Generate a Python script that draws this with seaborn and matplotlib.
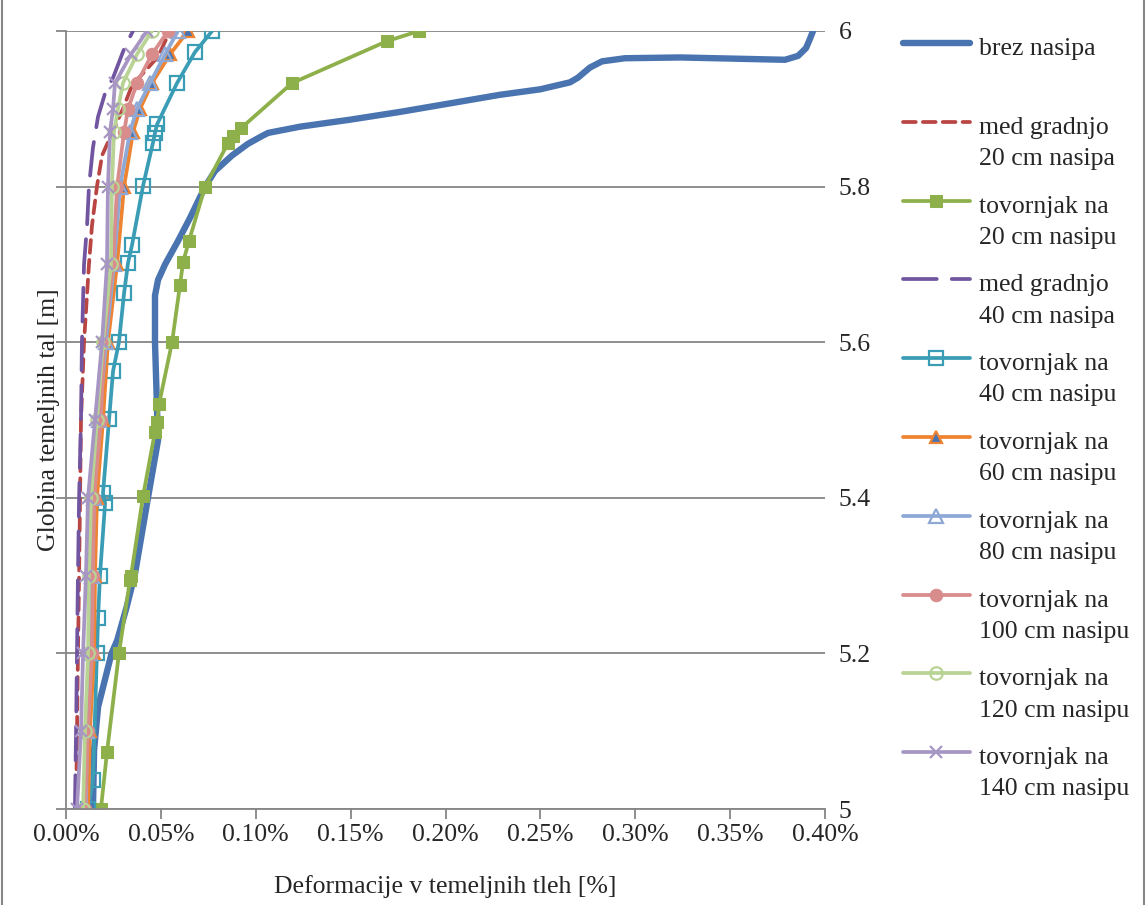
import matplotlib
matplotlib.use("Agg")
import matplotlib.pyplot as plt
from matplotlib.legend_handler import HandlerLine2D
from matplotlib.lines import Line2D
from matplotlib.ticker import FuncFormatter
import seaborn as sns

# ---- data: depth [m] and strain in foundation soil [%] ----
depth_brez = [5.0, 5.076, 5.131, 5.2, 5.217, 5.26, 5.303, 5.4, 5.474, 5.52, 5.6, 5.66,
              5.68, 5.7, 5.73, 5.76, 5.8, 5.82, 5.84, 5.855, 5.865, 5.869, 5.877, 5.886,
              5.896, 5.907, 5.918, 5.925, 5.934, 5.94, 5.953, 5.961, 5.965, 5.966, 5.964,
              5.963, 5.968, 5.978, 5.99, 6.0]
def_brez = [0.0142, 0.0148, 0.0169, 0.0240, 0.0270, 0.0320, 0.0364, 0.0432, 0.0485, 0.0479,
            0.0469, 0.0469, 0.0485, 0.0522, 0.0590, 0.0654, 0.0733, 0.0785, 0.0875, 0.0959,
            0.1033, 0.1065, 0.1233, 0.1497, 0.1760, 0.2024, 0.2287, 0.2498, 0.2656, 0.2698,
            0.2761, 0.2825, 0.2946, 0.3236, 0.3605, 0.3789, 0.3858, 0.3900, 0.3921, 0.3937]

depth_gr20 = [5.0, 5.1, 5.2, 5.3, 5.4, 5.5, 5.6, 5.7, 5.75, 5.8, 5.84, 5.9, 5.93, 5.967, 6.0]
def_gr20 = [0.0053, 0.0058, 0.0063, 0.0069, 0.0074, 0.0079, 0.0095, 0.0121, 0.0137, 0.0163,
            0.0190, 0.0300, 0.0348, 0.0485, 0.0548]

depth_tov20 = [5.0, 5.073, 5.2, 5.294, 5.30, 5.402, 5.485, 5.497, 5.52, 5.6, 5.674, 5.703,
               5.73, 5.8, 5.856, 5.865, 5.875, 5.933, 5.987, 6.0]
def_tov20 = [0.0184, 0.0216, 0.0279, 0.0337, 0.0343, 0.0406, 0.0469, 0.0480, 0.0490, 0.0559,
             0.0601, 0.0617, 0.0648, 0.0733, 0.0854, 0.0880, 0.0922, 0.1191, 0.1692, 0.1860]

depth_gr40 = [5.0, 5.1, 5.2, 5.3, 5.4, 5.5, 5.6, 5.7, 5.75, 5.8, 5.85, 5.89, 5.92, 5.94, 5.98, 6.0]
def_gr40 = [0.0047, 0.0053, 0.0058, 0.0063, 0.0069, 0.0079, 0.0084, 0.0095, 0.0111, 0.0121,
            0.0142, 0.0169, 0.0206, 0.0248, 0.0311, 0.0353]

depth_tov40 = [5.0, 5.037, 5.2, 5.245, 5.3, 5.393, 5.406, 5.501, 5.563, 5.6, 5.663, 5.702,
               5.725, 5.801, 5.856, 5.869, 5.88, 5.933, 5.973, 6.0]
def_tov40 = [0.0116, 0.0142, 0.0163, 0.0169, 0.0179, 0.0206, 0.0195, 0.0227, 0.0248, 0.0279,
             0.0306, 0.0327, 0.0348, 0.0406, 0.0458, 0.0469, 0.0480, 0.0585, 0.0680, 0.0770]

depth_tov = [5.0, 5.1, 5.2, 5.3, 5.4, 5.5, 5.6, 5.7, 5.8, 5.87, 5.9, 5.933, 5.97, 6.0]
def_tov60 = [0.0116, 0.0126, 0.0148, 0.0153, 0.0163, 0.0195, 0.0221, 0.0269, 0.0306, 0.0353,
             0.0390, 0.0453, 0.0548, 0.0643]
def_tov80 = [0.0105, 0.0111, 0.0126, 0.0137, 0.0148, 0.0174, 0.0211, 0.0253, 0.0285, 0.0337,
             0.0374, 0.0443, 0.0522, 0.0590]
def_tov100 = [0.0100, 0.0116, 0.0137, 0.0142, 0.0148, 0.0184, 0.0200, 0.0248, 0.0269, 0.0306,
              0.0327, 0.0374, 0.0453, 0.0538]
def_tov120 = [0.0090, 0.0100, 0.0116, 0.0121, 0.0132, 0.0163, 0.0195, 0.0237, 0.0242, 0.0253,
              0.0274, 0.0300, 0.0374, 0.0453]
def_tov140 = [0.0058, 0.0079, 0.0090, 0.0105, 0.0116, 0.0153, 0.0190, 0.0216, 0.0221, 0.0232,
              0.0248, 0.0258, 0.0343, 0.0427]

labels = ["brez nasipa\n ",
          "med gradnjo\n20 cm nasipa",
          "tovornjak na\n20 cm nasipu",
          "med gradnjo\n40 cm nasipa",
          "tovornjak na\n40 cm nasipu",
          "tovornjak na\n60 cm nasipu",
          "tovornjak na\n80 cm nasipu",
          "tovornjak na\n100 cm nasipu",
          "tovornjak na\n120 cm nasipu",
          "tovornjak na\n140 cm nasipu"]

x_ticks = [0.0, 0.05, 0.10, 0.15, 0.20, 0.25, 0.30, 0.35, 0.40]
y_ticks = [5.0, 5.2, 5.4, 5.6, 5.8, 6.0]

# ---- style ----
sns.set_style("white")
plt.rcParams["font.family"] = ["Liberation Serif", "DejaVu Serif"]
FS = 18.5
GRID = "#868686"

series = [
    (def_brez, depth_brez, dict(color="#4A74B0", lw=4.6)),
    (def_gr20, depth_gr20, dict(color="#B94643", lw=2.7, linestyle=(0, (3.4, 1.9)))),
    (def_tov20, depth_tov20, dict(color="#8DB04A", lw=2.7, marker="s", ms=8.5,
                                  mfc="#8DB04A", mec="#8DB04A")),
    (def_gr40, depth_gr40, dict(color="#7155A0", lw=2.7, linestyle=(0, (9, 4)))),
    (def_tov40, depth_tov40, dict(color="#3A9DB5", lw=2.7, marker="s", ms=10,
                                  mfc="none", mec="#3A9DB5", mew=1.6)),
    (def_tov60, depth_tov, dict(color="#EE8432", lw=2.7, marker="^", ms=8.5,
                                mfc="#4A74B0", mec="#EE8432", mew=1.6)),
    (def_tov80, depth_tov, dict(color="#8EA9D6", lw=2.7, marker="^", ms=10,
                                mfc="none", mec="#8EA9D6", mew=1.6)),
    (def_tov100, depth_tov, dict(color="#D98C8C", lw=2.7, marker="o", ms=9,
                                 mfc="#D98C8C", mec="#D98C8C")),
    (def_tov120, depth_tov, dict(color="#B8D394", lw=2.7, marker="o", ms=9,
                                 mfc="none", mec="#B8D394", mew=1.6)),
    (def_tov140, depth_tov, dict(color="#A796C4", lw=2.7, marker="x", ms=9,
                                 mec="#A796C4", mew=1.6)),
]

fig = plt.figure(figsize=(11.45, 9.05), dpi=100)
ax = fig.add_axes([66 / 1145, 1 - 809 / 905, (825 - 66) / 1145, (809 - 31) / 905])

handles = []
for xs, ys, kw in series:
    sns.lineplot(x=xs, y=ys, sort=False, estimator=None, ax=ax,
                 solid_capstyle="round", dash_capstyle="round", **kw)
    handles.append(ax.get_lines()[-1])

ax.set_xlim(0, 0.40)
ax.set_ylim(5.0, 6.0)
ax.set_xticks(x_ticks)
ax.set_yticks(y_ticks)
ax.xaxis.set_major_formatter(FuncFormatter(lambda v, p: f"{v:.2f}%"))
ax.yaxis.set_major_formatter(FuncFormatter(lambda v, p: f"{v:g}"))

ax.grid(axis="y", color=GRID, lw=1.3)
ax.grid(axis="x", visible=False)
ax.set_axisbelow(True)
for side in ["top", "right"]:
    ax.spines[side].set_visible(False)
for side in ["left", "bottom"]:
    ax.spines[side].set_color(GRID)
    ax.spines[side].set_linewidth(1.3)

ax.tick_params(axis="x", direction="out", length=7, width=1.3, color=GRID,
               labelsize=FS, pad=4, bottom=True)
ax.tick_params(axis="y", direction="out", length=7, width=1.3, color=GRID,
               left=True, right=False, labelleft=False, labelright=True,
               labelsize=FS, pad=3)

ax.set_xlabel("Deformacije v temeljnih tleh [%]", fontsize=FS, labelpad=21)
ax.set_ylabel("Globina temeljnih tal [m]", fontsize=FS, labelpad=-3)


class TopLineHandler(HandlerLine2D):
    """Legend handle drawn level with the first line of a two-line label."""

    def __init__(self, shift, **kw):
        super().__init__(**kw)
        self.shift = shift

    def create_artists(self, legend, orig_handle, xdescent, ydescent, width,
                       height, fontsize, trans):
        arts = super().create_artists(legend, orig_handle, xdescent, ydescent,
                                      width, height, fontsize, trans)
        for a in arts:
            a.set_ydata([y + self.shift for y in a.get_ydata()])
        return arts


shift = FS * 0.82
leg = fig.legend(handles, labels, loc="upper left",
                 bbox_to_anchor=(903 / 1145, 1 - 38 / 905),
                 frameon=False, fontsize=FS, handlelength=2.6, handletextpad=0.35,
                 labelspacing=0.99, borderaxespad=0, borderpad=0,
                 handler_map={h: TopLineHandler(shift) for h in handles})
for t in leg.get_texts():
    t.set_linespacing(1.55)

# side edges of the chart frame
for xf in (1.5 / 1145, 1 - 1.5 / 1145):
    fig.add_artist(Line2D([xf, xf], [0, 1], transform=fig.transFigure,
                          color=GRID, lw=1.5))

fig.savefig("out.png", dpi=100)
